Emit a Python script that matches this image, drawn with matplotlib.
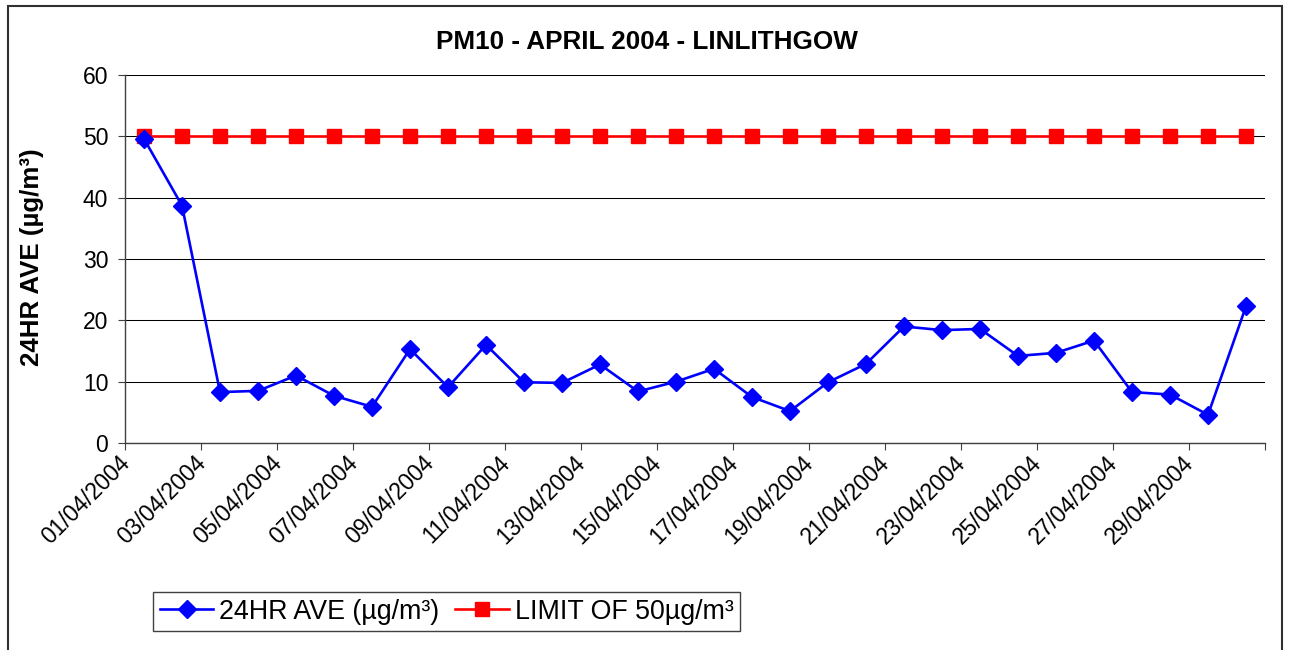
import matplotlib
matplotlib.use("Agg")
import matplotlib.pyplot as plt
from matplotlib.patches import Rectangle

plt.rcParams['font.family'] = ['Liberation Sans', 'DejaVu Sans']

days = [f"{d:02d}/04/2004" for d in range(1, 31)]
pm10 = [49.6, 38.7, 8.3, 8.5, 11.0, 7.7, 5.9, 15.3, 9.1, 16.0,
        9.9, 9.8, 12.8, 8.4, 10.0, 12.1, 7.5, 5.2, 9.9, 12.9,
        19.0, 18.4, 18.6, 14.2, 14.7, 16.7, 8.3, 7.9, 4.6, 22.3]
limit = [50] * 30
title = "PM10 - APRIL 2004 - LINLITHGOW"
ylabel = "24HR AVE (µg/m³)"
series_labels = ["24HR AVE (µg/m³)", "LIMIT OF 50µg/m³"]

W, H = 1289, 650
fig = plt.figure(figsize=(W / 100, H / 100), dpi=100)
ax = fig.add_axes([125 / W, 1 - 443 / H, (1265 - 125) / W, (443 - 75) / H])

x = [i + 0.5 for i in range(len(days))]
l1, = ax.plot(x, pm10, color='#0000FF', lw=1.9, marker='D', ms=9.5,
              mec='#0000FF', mfc='#0000FF', zorder=4)
l2, = ax.plot(x, limit, color='#FF0000', lw=1.9, marker='s', ms=10.5,
              mec='#FF0000', mfc='#FF0000', zorder=3)

ax.set_xlim(0, 30)
ax.set_ylim(0, 60)
ax.set_yticks(range(0, 61, 10))
ax.yaxis.grid(True, color='black', lw=0.75)
ax.set_axisbelow(True)
# major ticks: marks only at category boundaries (every 2 days)
ax.set_xticks(range(0, 31, 2))
ax.set_xticklabels([])
# minor ticks: carry the date labels, slightly right of the boundary
ax.set_xticks([i + 0.24 for i in range(0, 30, 2)], minor=True)
ax.set_xticklabels([days[i] for i in range(0, 30, 2)], minor=True,
                   rotation=45, ha='right', va='top')
ax.tick_params(axis='x', which='minor', length=0, pad=6, labelsize=16.5)

for s in ['top', 'right']:
    ax.spines[s].set_visible(False)
for s in ['left', 'bottom']:
    ax.spines[s].set_color('#404040')
    ax.spines[s].set_linewidth(1.0)
ax.tick_params(axis='both', which='major', direction='out', length=5,
               width=0.8, colors='#404040', labelcolor='black', labelsize=16.5)
ax.tick_params(axis='y', pad=7)

fig.text(647 / W, 1 - 42 / H, title, ha='center', va='center',
         fontsize=18.8, fontweight='bold')
fig.text(32 / W, 1 - 257 / H, ylabel, ha='center', va='center',
         rotation=90, fontsize=18.6, fontweight='bold')

leg = fig.legend([l1, l2], series_labels, loc='upper left',
                 bbox_to_anchor=(153 / W, 1 - 592 / H),
                 bbox_transform=fig.transFigure, ncol=2, fontsize=19.3,
                 frameon=True, fancybox=False, framealpha=1,
                 edgecolor='#404040', borderpad=0.25, handlelength=2.0,
                 handletextpad=0.22, columnspacing=0.6, borderaxespad=0)
leg.get_frame().set_linewidth(1.0)

fig.patches.append(Rectangle((8 / W, -0.05), (1282 - 8) / W, 1.05 - 6 / H,
                             transform=fig.transFigure, fill=False,
                             edgecolor='#303030', lw=1.5))

fig.savefig("out.png", dpi=100)
